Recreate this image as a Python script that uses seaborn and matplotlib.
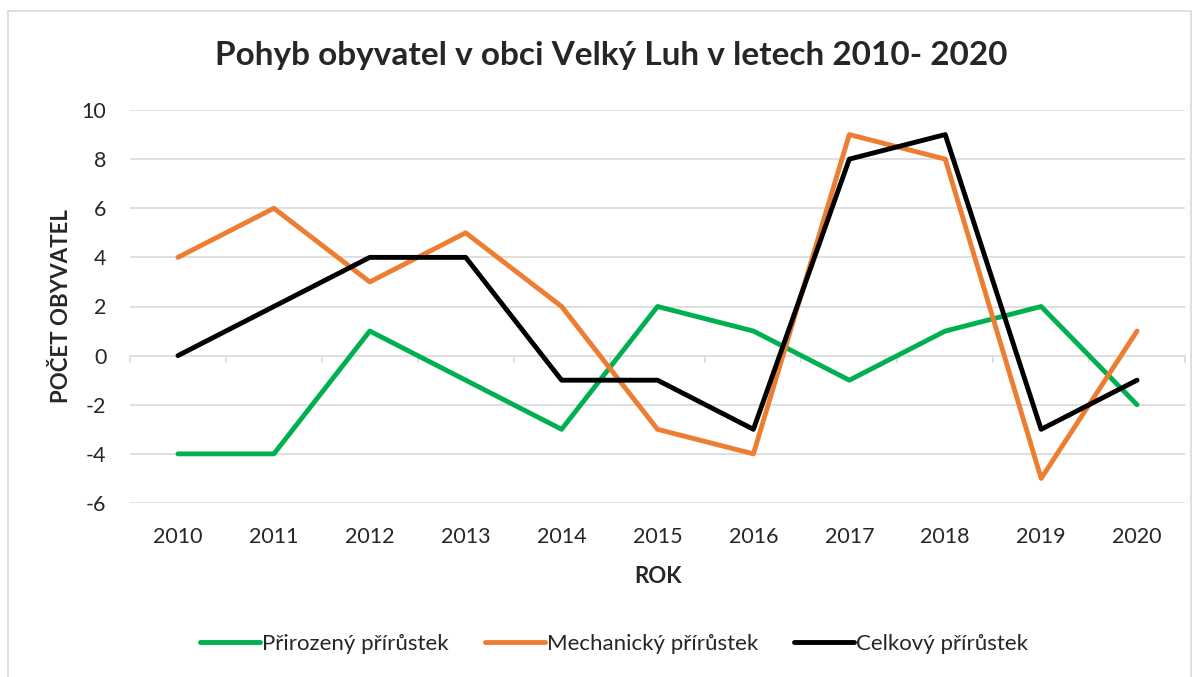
import matplotlib
matplotlib.use("Agg")
import matplotlib.pyplot as plt
import seaborn as sns
import pandas as pd
from matplotlib.patches import Rectangle

years = [2010, 2011, 2012, 2013, 2014, 2015, 2016, 2017, 2018, 2019, 2020]
prirozeny = [-4, -4, 1, -1, -3, 2, 1, -1, 1, 2, -2]
mechanicky = [4, 6, 3, 5, 2, -3, -4, 9, 8, -5, 1]
celkovy = [0, 2, 4, 4, -1, -1, -3, 8, 9, -3, -1]
series_names = ["Přirozený přírůstek", "Mechanický přírůstek", "Celkový přírůstek"]
colors = ["#00B050", "#ED7D31", "#000000"]
yticks = [-6, -4, -2, 0, 2, 4, 6, 8, 10]

sns.set_style("white")
plt.rcParams['font.family'] = ['Lato', 'DejaVu Sans']

rows = []
for name, vals in zip(series_names, [prirozeny, mechanicky, celkovy]):
    for i, (y, v) in enumerate(zip(years, vals)):
        rows.append({"idx": i, "rok": y, "hodnota": v, "serie": name})
df = pd.DataFrame(rows)

fig = plt.figure(figsize=(12, 6.77), dpi=100)
fig.patches.append(Rectangle((8/1200, -0.01), 1183/1200, 1 - 11/677 + 0.01,
                             transform=fig.transFigure, fill=False,
                             edgecolor="#D9D9D9", linewidth=1.2))
ax = fig.add_axes([130/1200, 1 - 503/677, 1055/1200, 393/677])

sns.lineplot(data=df, x="idx", y="hodnota", hue="serie", hue_order=series_names,
             palette=colors, linewidth=3.5, ax=ax, legend=True, zorder=3,
             solid_capstyle="round")

ax.set_xlim(-0.5, len(years) - 0.5)
ax.set_ylim(-6, 10)
ax.set_yticks(yticks)
ax.set_yticklabels([str(t) for t in yticks], fontsize=15.5)
ax.set_xticks(range(len(years)))
ax.set_xticklabels([str(y) for y in years], fontsize=15.5)
ax.tick_params(axis="x", length=0, pad=17)
ax.tick_params(axis="y", length=0, pad=17)
for t in yticks:
    ax.axhline(t, color="#D9D9D9", linewidth=1.2, zorder=1)
# category boundary tick marks at the zero line
for b in range(len(years) + 1):
    ax.plot([b - 0.5, b - 0.5], [0, -0.25], color="#D9D9D9", linewidth=1.2,
            zorder=1, clip_on=False)
for s in ax.spines.values():
    s.set_visible(False)

ax.set_xlabel("ROK", fontsize=16, fontweight="bold", labelpad=14)
ax.set_ylabel("POČET OBYVATEL", fontsize=16, fontweight="bold", labelpad=7)
fig.text(611/1200, 1 - 55/677, "Pohyb obyvatel v obci Velký Luh v letech 2010- 2020",
         ha="center", va="center", fontsize=24, fontweight="bold")

handles, labels = ax.get_legend_handles_labels()
ax.legend_.remove()
fig.legend(handles, labels, loc="center", bbox_to_anchor=(614/1200, 1 - 644/677),
           ncol=3, frameon=False, fontsize=16, handlelength=2.7,
           handletextpad=0.1, columnspacing=1.6)

fig.savefig("out.png", dpi=100)
